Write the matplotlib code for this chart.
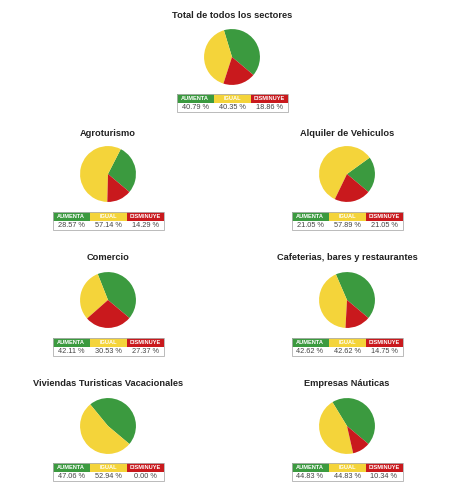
import matplotlib
matplotlib.use("Agg")
import matplotlib.pyplot as plt
from matplotlib.patches import Rectangle

plt.rcParams['font.family'] = ['Liberation Sans', 'DejaVu Sans']

titulos = ["Total de todos los sectores", "Agroturismo", "Alquiler de Vehiculos",
           "Comercio", "Cafeterias, bares y restaurantes",
           "Viviendas Turisticas Vacacionales", "Empresas Náuticas"]
aumenta = [40.79, 28.57, 21.05, 42.11, 42.62, 47.06, 44.83]
igual = [40.35, 57.14, 57.89, 30.53, 42.62, 52.94, 44.83]
disminuye = [18.86, 14.29, 21.05, 27.37, 14.75, 0.00, 10.34]
cabeceras = ["AUMENTA", "IGUAL", "DISMINUYE"]

colores = ["#3b9a3f", "#f4d43a", "#c9191d"]

W, H = 466, 500
fig = plt.figure(figsize=(W / 100, H / 100), dpi=100)
fig.patch.set_facecolor("white")

# posiciones en pixeles (centro x, titulo y, centro pie y, tabla arriba y)
cx = [232, 108, 347, 108, 347, 108, 347]
ty = [15, 133, 133, 258, 258, 383, 383]
py = [57, 174, 174, 300, 300, 426, 426]
tb = [94, 212, 212, 338, 338, 463, 463]
r = 28.5
tw, th = 111, 18

for i in range(len(titulos)):
    fig.text(cx[i] / W, 1 - ty[i] / H, titulos[i], ha="center", va="center",
             fontsize=6.7, fontweight="bold", color="#222222")

    ax = fig.add_axes([(cx[i] - r) / W, 1 - (py[i] + r) / H, 2 * r / W, 2 * r / H])
    ax.pie([aumenta[i], igual[i], disminuye[i]], colors=colores, startangle=-40,
           counterclock=True, radius=1, wedgeprops=dict(linewidth=0))
    ax.set_xlim(-1.02, 1.02)
    ax.set_ylim(-1.02, 1.02)
    ax.set_aspect("equal")
    ax.axis("off")

    tx = fig.add_axes([(cx[i] - tw / 2) / W, 1 - (tb[i] + th) / H, tw / W, th / H])
    tx.set_xlim(0, 3)
    tx.set_ylim(0, 2)
    tx.axis("off")
    valores = [aumenta[i], igual[i], disminuye[i]]
    for j in range(3):
        tx.add_patch(Rectangle((j, 1.05), 1, 0.95, color=colores[j], lw=0))
        tx.text(j + 0.5, 1.52, cabeceras[j], ha="center", va="center",
                fontsize=4.1, fontweight="bold", color="white")
        tx.text(j + 0.5, 0.5, "%.2f %%" % valores[j], ha="center", va="center",
                fontsize=5.3, color="#444444")
    tx.add_patch(Rectangle((0, 0), 3, 2, fill=False, ec="#b0b0b0", lw=0.6,
                           clip_on=False))

fig.savefig("out.png", dpi=100, facecolor="white")
